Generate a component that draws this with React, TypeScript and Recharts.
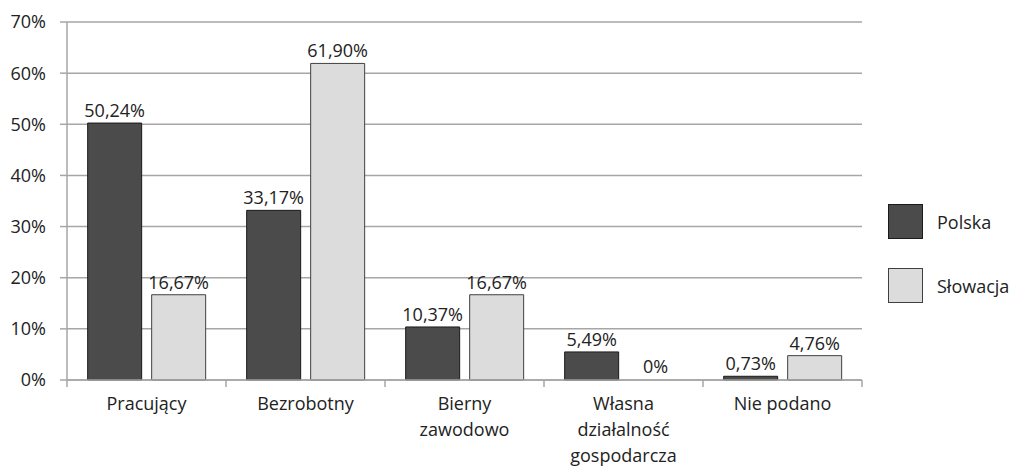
import React from "react";
import {
  BarChart,
  Bar,
  XAxis,
  YAxis,
  CartesianGrid,
  Legend,
  Rectangle,
} from "recharts";

const categories = [
  "Pracujący",
  "Bezrobotny",
  "Bierny zawodowo",
  "Własna działalność gospodarcza",
  "Nie podano",
];
// how each category label wraps under the axis
const categoryLines = [
  ["Pracujący"],
  ["Bezrobotny"],
  ["Bierny", "zawodowo"],
  ["Własna", "działalność", "gospodarcza"],
  ["Nie podano"],
];
const polska = [50.24, 33.17, 10.37, 5.49, 0.73];
const slowacja = [16.67, 61.9, 16.67, 0, 4.76];
const yTicks = [0, 10, 20, 30, 40, 50, 60, 70];

const data = categories.map((name, i) => ({
  name,
  polska: polska[i],
  slowacja: slowacja[i],
}));

const FONT = "'Open Sans', 'Noto Sans', sans-serif";
const FS = 18;
const TEXT = "#222";
const GRID = "#a6a6a6";
const DARK = "#4b4b4b";
const LIGHT = "#dcdcdd";

const fmt = (v: number) =>
  v === 0 ? "0%" : `${v.toFixed(2).replace(".", ",")}%`;

function CategoryTick(props: any) {
  const { x, y, payload, index, visibleTicksCount } = props;
  const half = payload && payload.offset ? payload.offset : 79.5;
  const lines = categoryLines[index] || [payload.value];
  const axisY = y - 8;
  return (
    <g>
      <line x1={x - half} x2={x - half} y1={axisY} y2={axisY + 7} stroke={GRID} strokeWidth={1.5} />
      {index === visibleTicksCount - 1 && (
        <line x1={x + half} x2={x + half} y1={axisY} y2={axisY + 7} stroke={GRID} strokeWidth={1.5} />
      )}
      <text x={x} y={y + 10} textAnchor="middle" fontFamily={FONT} fontSize={FS} fill={TEXT}>
        {lines.map((l: string, i: number) => (
          <tspan key={i} x={x} dy={i === 0 ? 12 : 26}>
            {l}
          </tspan>
        ))}
      </text>
    </g>
  );
}

function ValueLabel(props: any) {
  const { x, y, width, value } = props;
  const v = Array.isArray(value) ? value[1] : value;
  return (
    <text
      x={x + width / 2}
      y={y - 6}
      textAnchor="middle"
      fontFamily={FONT}
      fontSize={FS}
      fill={TEXT}
    >
      {fmt(Number(v))}
    </text>
  );
}

// zero values keep their label but draw no bar
const makeShape = (key: string) => (props: any) =>
  props.payload && props.payload[key] === 0 ? <g /> : <Rectangle {...props} />;

function LegendContent() {
  const items = [
    { label: "Polska", fill: DARK, stroke: "#1a1a1a" },
    { label: "Słowacja", fill: LIGHT, stroke: "#404040" },
  ];
  return (
    <div style={{ fontFamily: FONT, fontSize: FS, color: TEXT }}>
      {items.map((it) => (
        <div
          key={it.label}
          style={{ display: "flex", alignItems: "center", height: 35, marginBottom: 29 }}
        >
          <div
            style={{
              width: 33,
              height: 33,
              background: it.fill,
              border: `1px solid ${it.stroke}`,
              marginRight: 14,
            }}
          />
          <span>{it.label}</span>
        </div>
      ))}
    </div>
  );
}

export default function App() {
  return (
    <div style={{ position: "absolute", left: 0, top: 0, background: "#fff" }}>
      <BarChart
        width={1013}
        height={466}
        data={data}
        margin={{ top: 22, right: 151, bottom: 0, left: 0 }}
        barCategoryGap="13%"
        barGap={10}
      >
        <CartesianGrid vertical={false} stroke={GRID} strokeWidth={1.5} />
        <YAxis
          width={67}
          domain={[0, 70]}
          ticks={yTicks}
          interval={0}
          tickFormatter={(v: number) => `${v}%`}
          axisLine={{ stroke: GRID, strokeWidth: 1.5 }}
          tickLine={{ stroke: GRID, strokeWidth: 1.5 }}
          tickSize={7}
          tickMargin={14}
          tick={{ fontFamily: FONT, fontSize: FS, fill: TEXT }}
        />
        <XAxis
          dataKey="name"
          interval={0}
          axisLine={{ stroke: GRID, strokeWidth: 1.5 }}
          tickLine={false}
          height={86}
          tick={<CategoryTick />}
        />
        <Legend
          layout="vertical"
          align="center"
          verticalAlign="middle"
          content={<LegendContent />}
          wrapperStyle={{ left: 888, top: 204, width: 125 }}
        />
        <Bar
          dataKey="polska"
          name="Polska"
          fill={DARK}
          stroke="#1a1a1a"
          strokeWidth={1}
          isAnimationActive={false}
          label={<ValueLabel />}
        />
        <Bar
          dataKey="slowacja"
          name="Słowacja"
          fill={LIGHT}
          stroke="#404040"
          strokeWidth={1}
          minPointSize={1}
          shape={makeShape("slowacja")}
          isAnimationActive={false}
          label={<ValueLabel />}
        />
      </BarChart>
    </div>
  );
}
